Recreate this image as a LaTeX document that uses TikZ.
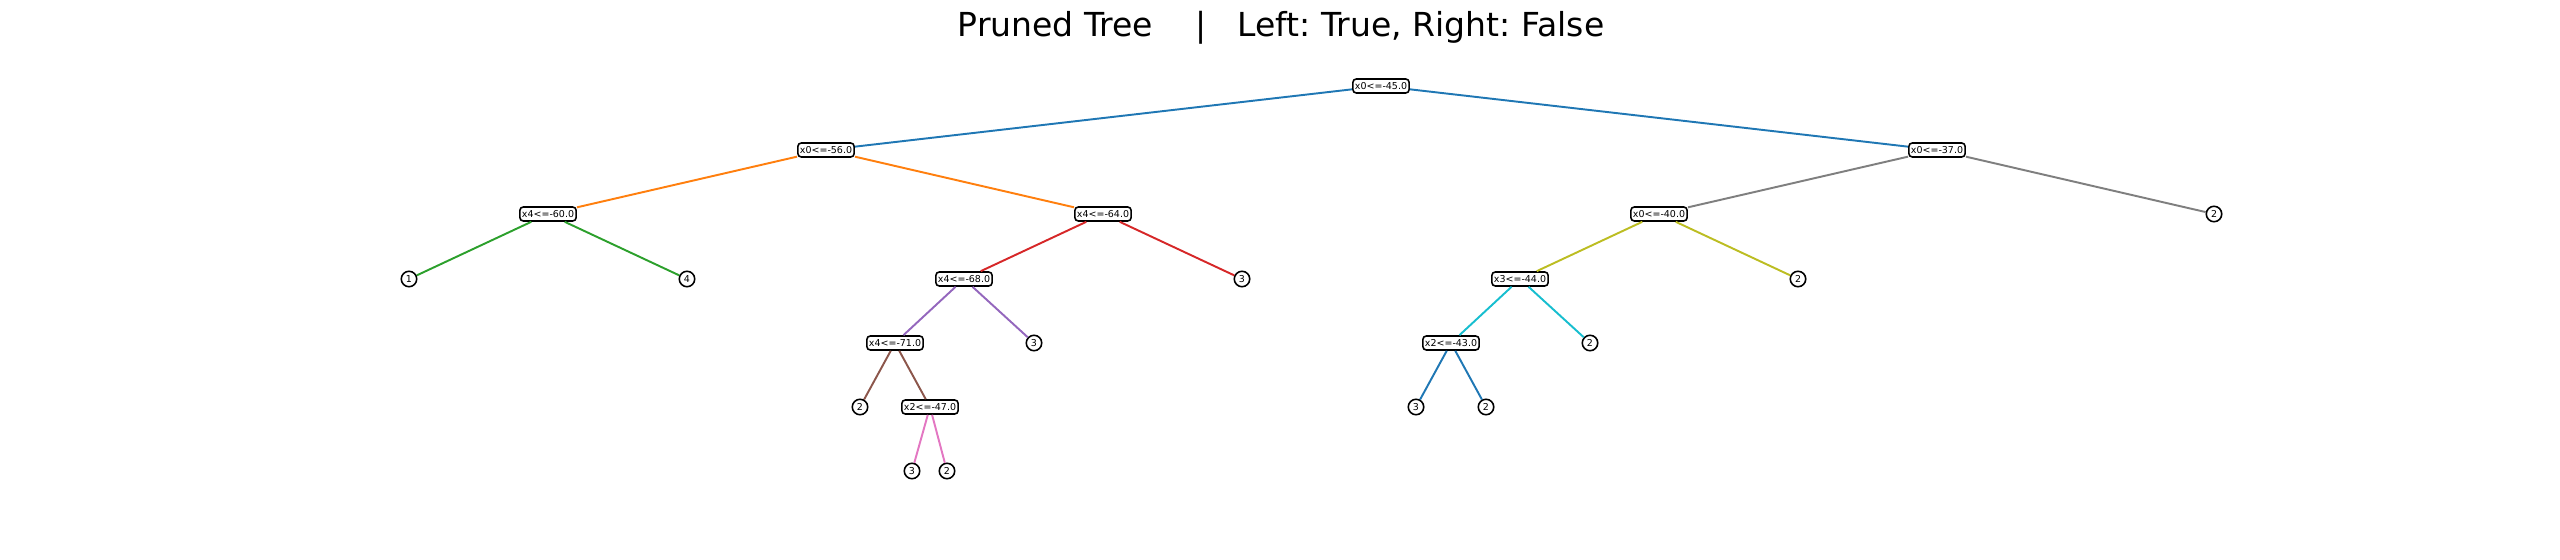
\documentclass[tikz,border=0pt]{standalone}
\usepackage{fontspec}
\setmainfont{DejaVu Sans}
\usepackage{tikz}

\definecolor{tabblue}{HTML}{1F77B4}
\definecolor{taborange}{HTML}{FF7F0E}
\definecolor{tabgreen}{HTML}{2CA02C}
\definecolor{tabred}{HTML}{D62728}
\definecolor{tabpurple}{HTML}{9467BD}
\definecolor{tabbrown}{HTML}{8C564B}
\definecolor{tabpink}{HTML}{E377C2}
\definecolor{tabgray}{HTML}{7F7F7F}
\definecolor{tabolive}{HTML}{BCBD22}
\definecolor{tabcyan}{HTML}{17BECF}

\tikzset{
  split/.style={draw, fill=white, rounded corners=1pt, line width=0.45pt,
    inner xsep=0.6pt, inner ysep=0.4pt, minimum height=4pt,
    font=\fontsize{2.7}{3}\selectfont},
  leaf/.style={draw, circle, fill=white, line width=0.45pt,
    minimum size=4.4pt, inner sep=0pt, font=\fontsize{2.7}{3}\selectfont},
  branch/.style={line width=0.55pt}
}

\begin{document}
\frenchspacing
\begin{tikzpicture}
    \useasboundingbox (0,0) rectangle (25.6,5.6);

    % Title
    \node (title) at (12.81,5.23) [anchor=base, font=\fontsize{9.4}{11}\selectfont]
      {Pruned Tree\ \ \ \ |\ \ \ Left: True, Right: False};

    % Split nodes
    \foreach \n/\x/\y/\t in {r/13.81/4.74/x0<=-45.0, a/8.26/4.10/x0<=-56.0,
      b/19.37/4.10/x0<=-37.0, c/5.48/3.46/x4<=-60.0, d/11.03/3.46/x4<=-64.0,
      e/16.59/3.46/x0<=-40.0, f/9.64/2.81/x4<=-68.0, g/15.20/2.81/x3<=-44.0,
      h/8.95/2.17/x4<=-71.0, i/14.51/2.17/x2<=-43.0, j/9.30/1.53/x2<=-47.0} {
      \node[split] (\n) at (\x,\y) {\t};
    }

    % Leaf nodes
    \foreach \n/\x/\y/\t in {l1/4.09/2.81/1, l2/6.87/2.81/4, l3/12.42/2.81/3,
      l4/10.34/2.17/3, l5/8.60/1.53/2, l6/9.12/0.89/3, l7/9.47/0.89/2,
      l8/22.14/3.46/2, l9/17.98/2.81/2, l10/15.90/2.17/2,
      l11/14.16/1.53/3, l12/14.86/1.53/2} {
      \node[leaf] (\n) at (\x,\y) {\t};
    }

    % Branches
    \foreach \p/\q/\c in {r/a/tabblue, r/b/tabblue, a/c/taborange, a/d/taborange,
      c/l1/tabgreen, c/l2/tabgreen, d/f/tabred, d/l3/tabred,
      f/h/tabpurple, f/l4/tabpurple, h/l5/tabbrown, h/j/tabbrown,
      j/l6/tabpink, j/l7/tabpink, b/e/tabgray, b/l8/tabgray,
      e/g/tabolive, e/l9/tabolive, g/i/tabcyan, g/l10/tabcyan,
      i/l11/tabblue, i/l12/tabblue} {
      \draw[branch, \c] (\p) -- (\q);
    }

\end{tikzpicture}
\end{document}
